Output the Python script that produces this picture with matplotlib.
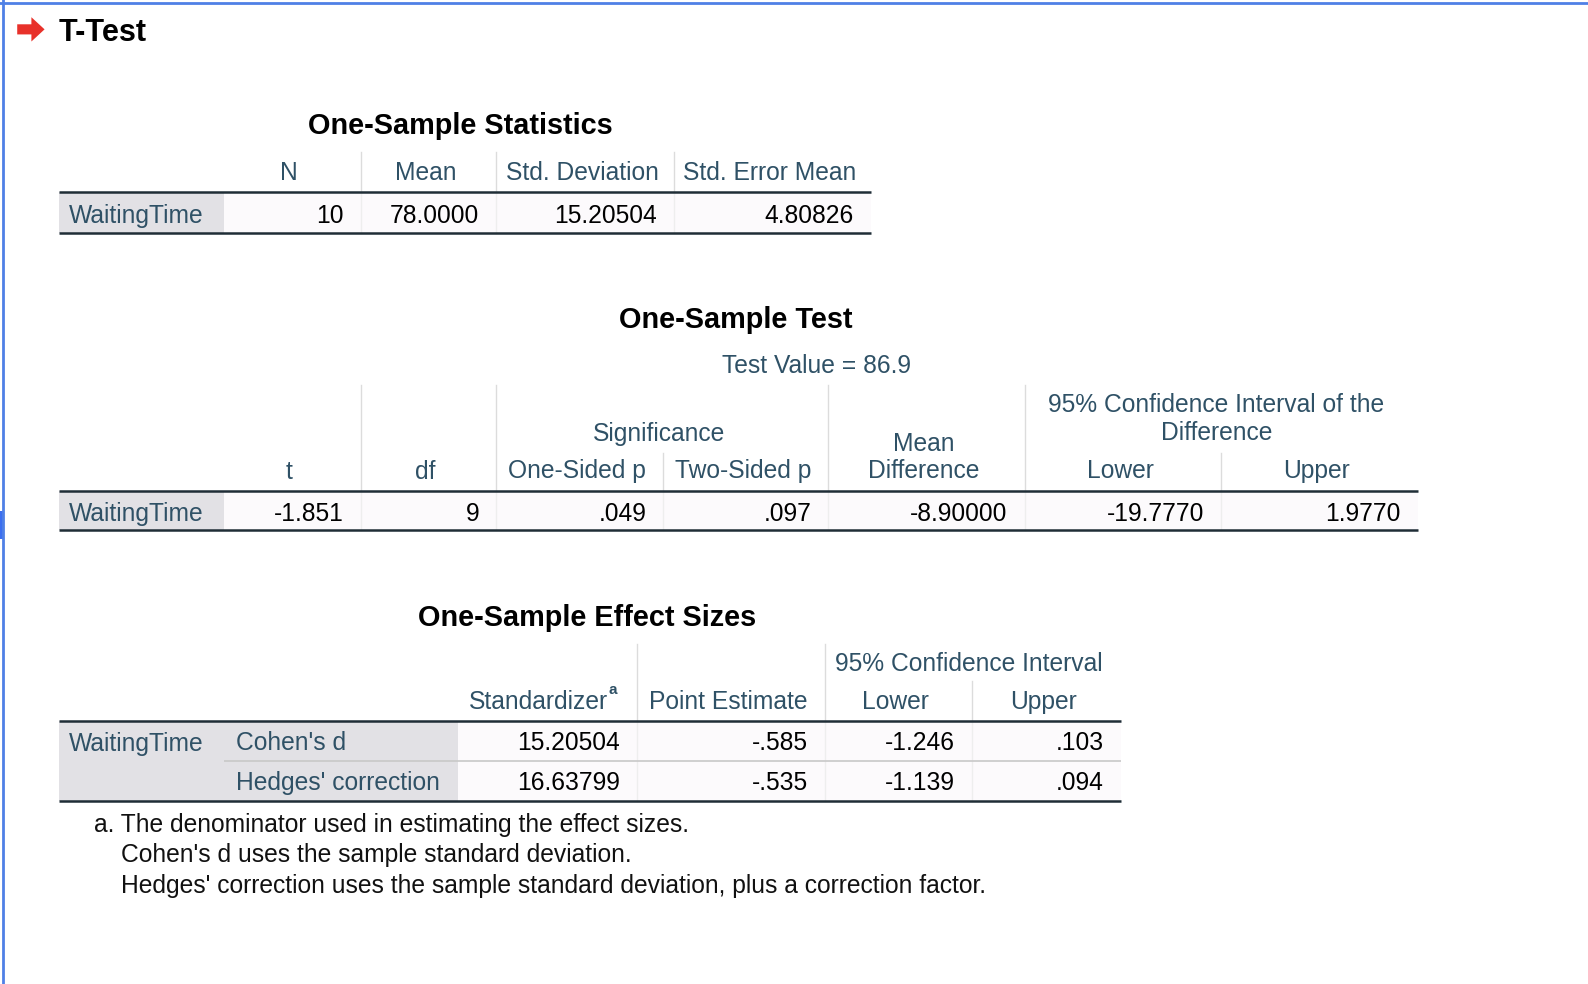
import matplotlib.pyplot as plt
from matplotlib.patches import Rectangle, Polygon

plt.rcParams['font.family'] = ['Liberation Sans', 'DejaVu Sans']

# 表格数据
var_name = "WaitingTime"

stats_headers = ["N", "Mean", "Std. Deviation", "Std. Error Mean"]
stats_values = ["10", "78.0000", "15.20504", "4.80826"]

test_value = "Test Value = 86.9"
test_headers = ["t", "df", "One-Sided p", "Two-Sided p", "Mean\nDifference", "Lower", "Upper"]
test_values = ["-1.851", "9", ".049", ".097", "-8.90000", "-19.7770", "1.9770"]

effect_headers = ["Standardizer", "Point Estimate", "Lower", "Upper"]
effect_rows = ["Cohen's d", "Hedges' correction"]
effect_values = [["15.20504", "-.585", "-1.246", ".103"],
                 ["16.63799", "-.535", "-1.139", ".094"]]

footnotes = ["a. The denominator used in estimating the effect sizes.",
             "Cohen's d uses the sample standard deviation.",
             "Hedges' correction uses the sample standard deviation, plus a correction factor."]

# 颜色
HEAD = "#2f5166"
LINE = "#1f2d36"
SEP = "#dcdcdc"
LABEL_BG = "#e2e1e5"
CELL_BG = "#fcfafc"
FS = 17.7
DY = 2  # 文字基线微调

# 画布坐标: 以 1568x972 的网格布局, 输出 1588x984
W, H = 1568, 972
fig = plt.figure(figsize=(15.88, 9.84), dpi=100)
ax = fig.add_axes([0, 0, 1, 1])
ax.set_xlim(0, W)
ax.set_ylim(H, 0)
ax.axis("off")


def hline(x0, x1, y, color=LINE, lw=1.8):
    ax.plot([x0, x1], [y, y], color=color, lw=lw, solid_capstyle="butt")


def vline(x, y0, y1, color=SEP, lw=1.0):
    ax.plot([x, x], [y0, y1], color=color, lw=lw)


def box(x0, x1, y0, y1, color):
    ax.add_patch(Rectangle((x0, y0), x1 - x0, y1 - y0, color=color, lw=0))


def head(x, y, s, ha="center"):
    ax.text(x, y + DY, s, color=HEAD, fontsize=FS, ha=ha, va="center", linespacing=1.2)


def val(x, y, s):
    ax.text(x, y + DY, s, color="black", fontsize=FS, ha="right", va="center")


def title(x, y, s, size=20.8):
    ax.text(x, y + DY, s, fontsize=size, fontweight="bold", ha="center", va="center")


# 窗口边框
ax.plot([2.5, 2.5], [0, H], color="#4f80e6", lw=2)
ax.plot([0, W], [2.5, 2.5], color="#4f80e6", lw=2)
box(0, 4, 505, 532, "#3b6ef0")

# 红色箭头 + 标题
ax.add_patch(Polygon([(17, 24), (31, 24), (31, 17), (44, 29), (31, 41), (31, 34), (17, 34)],
                     closed=True, color="#e8312a", lw=0))
ax.text(58, 33, "T-Test", fontsize=22, fontweight="bold", va="center", ha="left")

# ---------- One-Sample Statistics ----------
title(455, 122, "One-Sample Statistics")
cols1 = [58, 221, 356, 490, 666, 860]
for x in cols1[2:-1]:
    vline(x, 150, 190)
for i, h in enumerate(stats_headers):
    head((cols1[i + 1] + cols1[i + 2]) / 2 - 3, 169, h)
box(cols1[0], cols1[1], 190, 230, LABEL_BG)
box(cols1[1], cols1[-1], 190, 230, CELL_BG)
for x in cols1[2:-1]:
    vline(x, 190, 230, color="#eeeeee")
head(68, 211, var_name, ha="left")
for i, v in enumerate(stats_values):
    val(cols1[i + 2] - 17, 211, v)
hline(58, 860, 190)
hline(58, 860, 230)

# ---------- One-Sample Test ----------
title(726, 314, "One-Sample Test")
cols2 = [58, 221, 356, 490, 655, 818, 1012, 1206, 1400]
head(806, 360, test_value)
for x in [356, 490, 818, 1012]:
    vline(x, 380, 485)
for x in [655, 1206]:
    vline(x, 447, 485)
head(651, 427, "Significance")
head(1201, 412, "95% Confidence Interval of the\nDifference")
test_y = [464, 464, 463, 463, 450, 463, 463]
for i, h in enumerate(test_headers):
    head((cols2[i + 1] + cols2[i + 2]) / 2 - 3, test_y[i], h)
box(cols2[0], cols2[1], 485, 524, LABEL_BG)
box(cols2[1], cols2[-1], 485, 524, CELL_BG)
for x in cols2[2:-1]:
    vline(x, 485, 524, color="#eeeeee")
head(68, 506, var_name, ha="left")
for i, v in enumerate(test_values):
    val(cols2[i + 2] - 17, 506, v)
hline(58, 1400, 485)
hline(58, 1400, 524)

# ---------- One-Sample Effect Sizes ----------
title(580, 608, "One-Sample Effect Sizes")
cols3 = [58, 221, 452, 629, 815, 960, 1107]
for x in [629, 815]:
    vline(x, 636, 712)
vline(960, 673, 712)
head(957, 654, "95% Confidence Interval")
head(cols3[3] - 29, 691, effect_headers[0], ha="right")
ax.text(cols3[3] - 28, 682, "a", color=HEAD, fontsize=11, fontweight="bold",
        ha="left", va="center")
for i, h in enumerate(effect_headers[1:]):
    head((cols3[i + 3] + cols3[i + 4]) / 2 - 3, 691, h)
row_y = [(712, 752), (752, 791)]
box(cols3[0], cols3[2], 712, 791, LABEL_BG)
box(cols3[2], cols3[-1], 712, 791, CELL_BG)
for x in cols3[3:-1]:
    vline(x, 712, 791, color="#eeeeee")
hline(221, 1107, 752, color="#c8c8c8", lw=1.2)
head(68, 733, var_name, ha="left")
for r, (name, vals) in enumerate(zip(effect_rows, effect_values)):
    yc = (row_y[r][0] + row_y[r][1]) / 2
    head(233, yc, name, ha="left")
    for i, v in enumerate(vals):
        val(cols3[i + 3] - 17, yc, v)
hline(58, 1107, 712)
hline(58, 1107, 791)

# 脚注
ax.text(93, 813 + DY, footnotes[0], fontsize=FS, va="center", ha="left", color="#111111")
ax.text(119, 843 + DY, footnotes[1], fontsize=FS, va="center", ha="left", color="#111111")
ax.text(119, 873 + DY, footnotes[2], fontsize=FS, va="center", ha="left", color="#111111")

fig.savefig("out.png", dpi=100, facecolor="white")
